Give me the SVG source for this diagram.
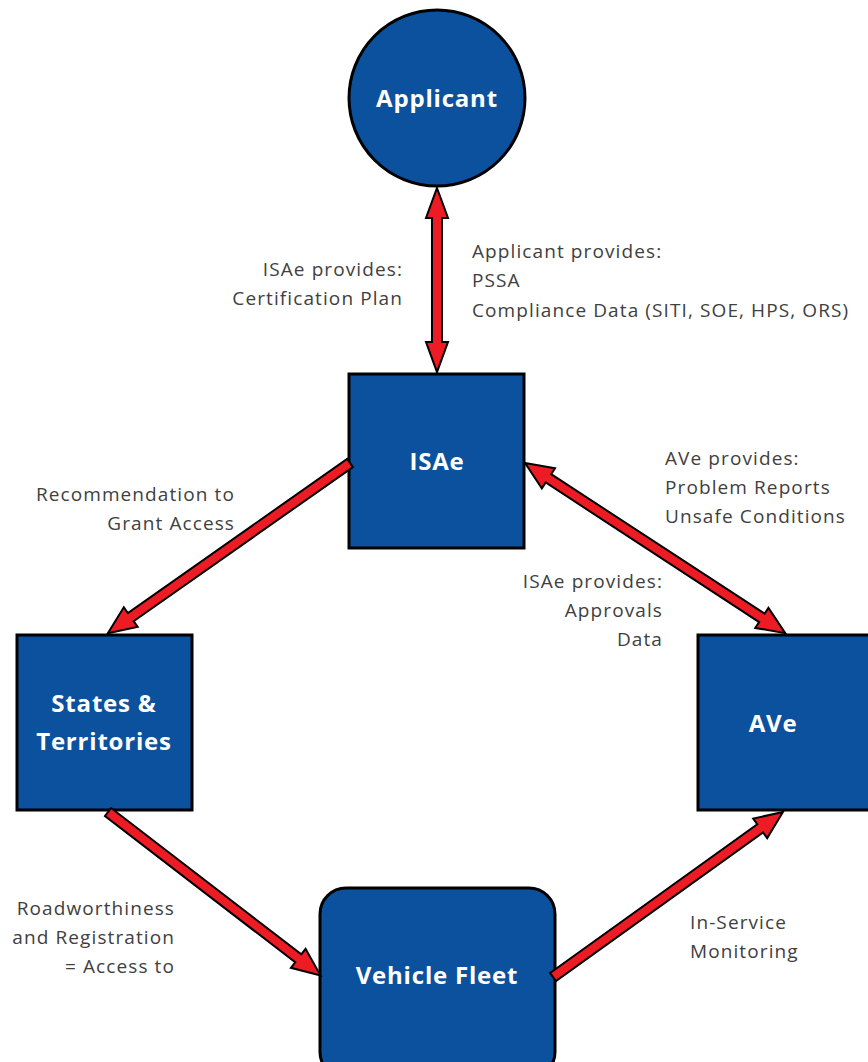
<svg xmlns="http://www.w3.org/2000/svg" width="868" height="1062" viewBox="0 0 868 1062">
<style>
.node{fill:#0B519D;stroke:#000;stroke-width:3}
.nl{font-family:"Open Sans","Liberation Sans",sans-serif;font-weight:bold;font-size:24px;letter-spacing:0.8px;fill:#fff;text-anchor:middle}
.lb{font-family:"Open Sans","Liberation Sans",sans-serif;font-size:19px;letter-spacing:1.1px;fill:#404040}
.r{text-anchor:end}
.arr{fill:#ED1C24;stroke:#000;stroke-width:2;stroke-linejoin:miter}
</style>
<rect width="868" height="1062" fill="#fff"/>
<g id="applicant"><circle class="node" cx="437" cy="98" r="88"/><text class="nl" x="437" y="107">Applicant</text></g>
<g id="isae"><rect class="node" x="349" y="374" width="175" height="174"/><text class="nl" x="437" y="470">ISAe</text></g>
<g id="states"><rect class="node" x="17" y="635" width="175" height="175"/><text class="nl" x="104" y="712">States &amp;</text><text class="nl" x="104" y="750">Territories</text></g>
<g id="ave"><rect class="node" x="698" y="635" width="180" height="175"/><text class="nl" x="773" y="732">AVe</text></g>
<g id="fleet"><rect class="node" x="320" y="888" width="235" height="190" rx="26"/><text class="nl" x="437" y="984">Vehicle Fleet</text></g>
<g id="connectors">
<polygon class="arr" transform="translate(437,188) rotate(90)" points="0,0 30,-11 30,-5 154,-5 154,-11 184,0 154,11 154,5 30,5 30,11"/>
<polygon class="arr" transform="translate(350,463) rotate(144.9)" points="0,-5 268,-5 268,-12 296,0 268,12 268,5 0,5"/>
<polygon class="arr" transform="translate(525,463) rotate(33.18)" points="0,0 28,-12 28,-5 283,-5 283,-12 311,0 283,12 283,5 28,5 28,12"/>
<polygon class="arr" transform="translate(108,812) rotate(37.56)" points="0,-5 240,-5 240,-12 268,0 240,12 240,5 0,5"/>
<polygon class="arr" transform="translate(553,977) rotate(-35.66)" points="0,-5 255,-5 255,-12 283,0 255,12 255,5 0,5"/>
</g>
<g id="labels">
<text class="lb r" x="403" y="276">ISAe provides:</text>
<text class="lb r" x="403" y="305">Certification Plan</text>
<text class="lb" x="472" y="258">Applicant provides:</text>
<text class="lb" x="472" y="287">PSSA</text>
<text class="lb" x="472" y="317">Compliance Data (SITI, SOE, HPS, ORS)</text>
<text class="lb r" x="235" y="501">Recommendation to</text>
<text class="lb r" x="235" y="530">Grant Access</text>
<text class="lb" x="665" y="465">AVe provides:</text>
<text class="lb" x="665" y="494">Problem Reports</text>
<text class="lb" x="665" y="523">Unsafe Conditions</text>
<text class="lb r" x="663" y="588">ISAe provides:</text>
<text class="lb r" x="663" y="617">Approvals</text>
<text class="lb r" x="663" y="646">Data</text>
<text class="lb r" x="175" y="915">Roadworthiness</text>
<text class="lb r" x="175" y="944">and Registration</text>
<text class="lb r" x="175" y="973">= Access to</text>
<text class="lb" x="690" y="929">In-Service</text>
<text class="lb" x="690" y="958">Monitoring</text>
</g>
</svg>
